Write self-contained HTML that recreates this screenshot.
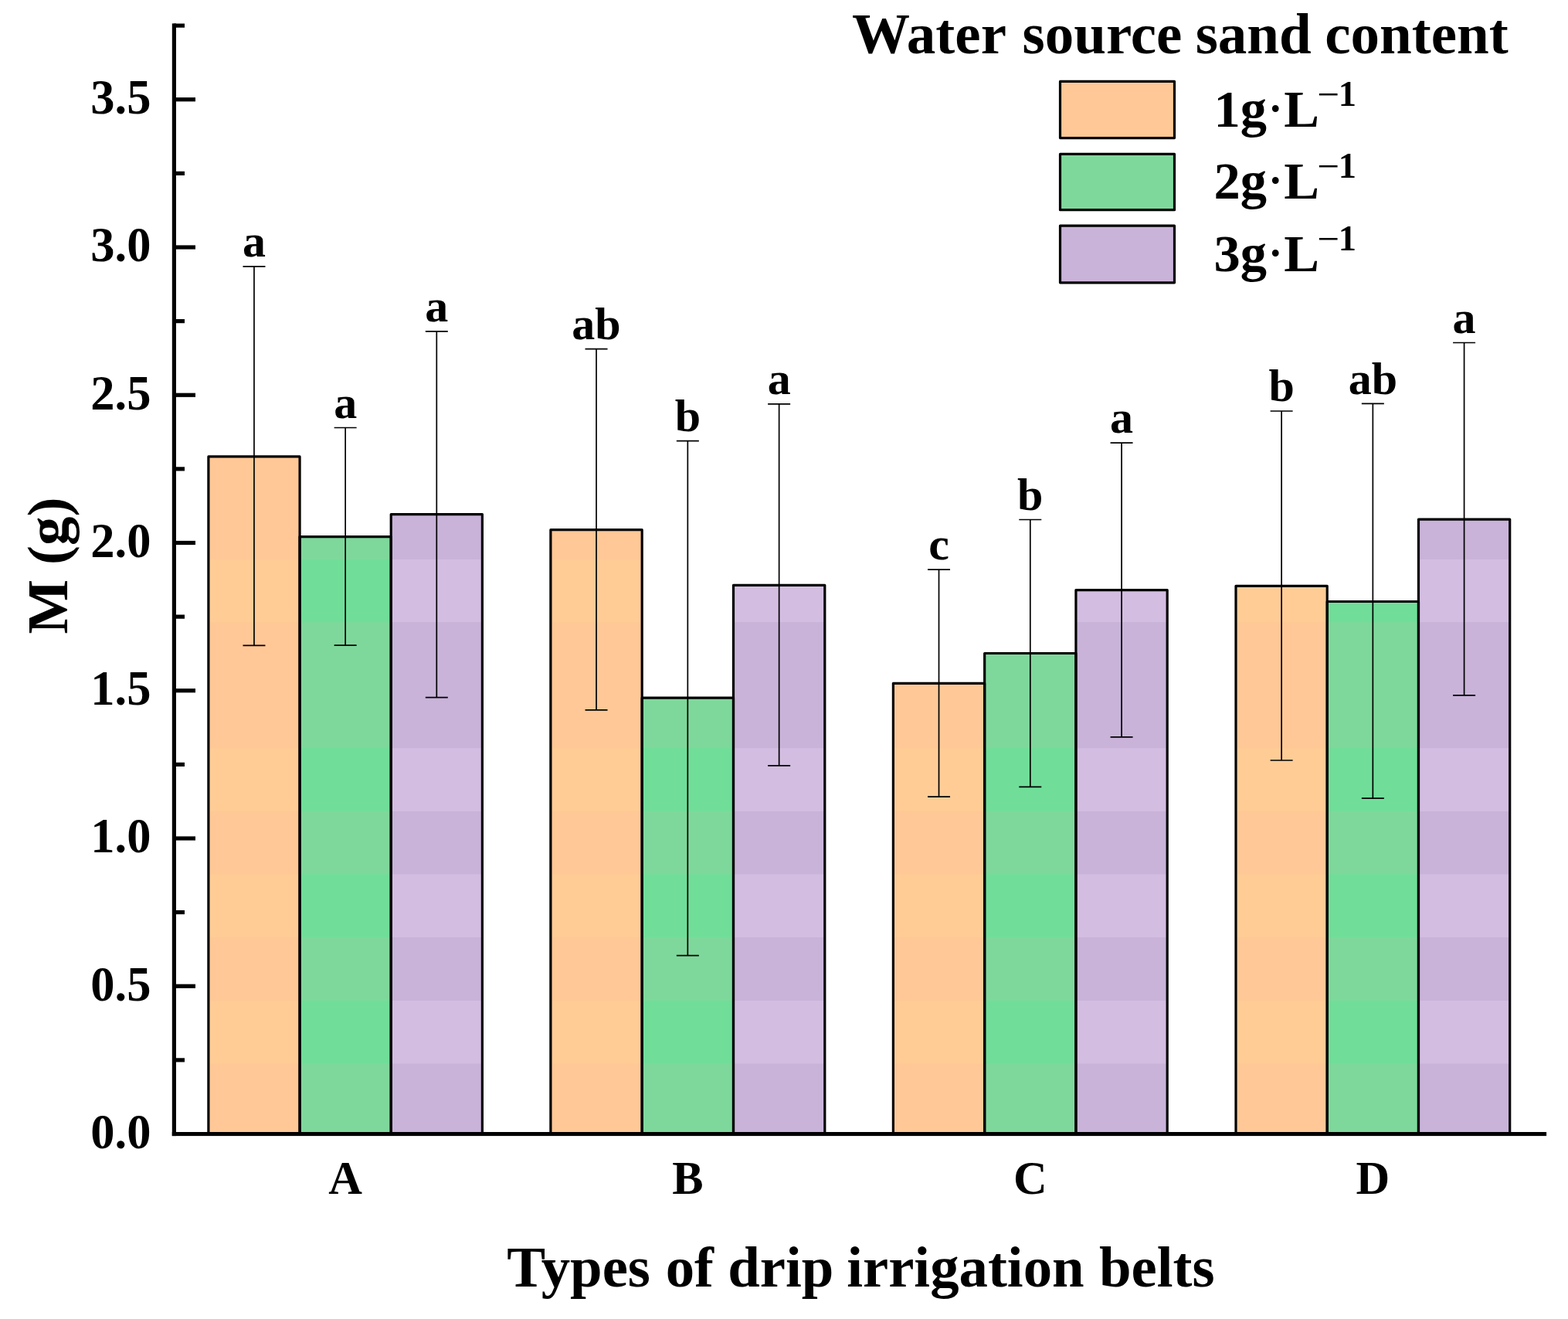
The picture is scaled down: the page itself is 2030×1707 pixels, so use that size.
<!DOCTYPE html>
<html lang="en">
<head>
<meta charset="utf-8">
<title>Water source sand content - types of drip irrigation belts</title>
<style>
html,body{margin:0;padding:0;background:#fff;}
body{width:2030px;height:1707px;overflow:hidden;}
svg{display:block;}
text{font-family:"Liberation Serif","DejaVu Serif",serif;font-weight:bold;fill:#000;}
.bar{stroke:#000;stroke-width:3.2;stroke-linejoin:round;fill:none;}
.err{stroke:#000;stroke-width:1.7;fill:none;}
.ax{fill:#000;}
</style>
</head>
<body>
<svg width="2030" height="1707" viewBox="0 0 2030 1707">
<rect x="0" y="0" width="2030" height="1707" fill="#fff"/>
<g id="bars">
<rect x="269.9" y="590.9" width="118.17" height="876.6" fill="#FFC896"/>
<rect x="269.9" y="723.9" width="118.17" height="81.3" fill="#FFCC96"/>
<rect x="269.9" y="968.2" width="118.17" height="81.8" fill="#FFCC96"/>
<rect x="269.9" y="1131.4" width="118.17" height="81.6" fill="#FFCC96"/>
<rect x="269.9" y="1294.9" width="118.17" height="81.6" fill="#FFCC96"/>
<rect x="388.07" y="694.6" width="118.17" height="772.9" fill="#7FD89B"/>
<rect x="388.07" y="723.9" width="118.17" height="81.3" fill="#70DE99"/>
<rect x="388.07" y="968.2" width="118.17" height="81.8" fill="#70DE99"/>
<rect x="388.07" y="1131.4" width="118.17" height="81.6" fill="#70DE99"/>
<rect x="388.07" y="1294.9" width="118.17" height="81.6" fill="#70DE99"/>
<rect x="506.23" y="665.6" width="118.17" height="801.9" fill="#C9B3D9"/>
<rect x="506.23" y="723.9" width="118.17" height="81.3" fill="#D3BDE1"/>
<rect x="506.23" y="968.2" width="118.17" height="81.8" fill="#D3BDE1"/>
<rect x="506.23" y="1131.4" width="118.17" height="81.6" fill="#D3BDE1"/>
<rect x="506.23" y="1294.9" width="118.17" height="81.6" fill="#D3BDE1"/>
<rect class="bar" x="269.9" y="590.9" width="118.17" height="876.6"/>
<rect class="bar" x="388.07" y="694.6" width="118.17" height="772.9"/>
<rect class="bar" x="506.23" y="665.6" width="118.17" height="801.9"/>
<rect x="712.9" y="685.7" width="118.3" height="781.8" fill="#FFC896"/>
<rect x="712.9" y="723.9" width="118.3" height="81.3" fill="#FFCC96"/>
<rect x="712.9" y="968.2" width="118.3" height="81.8" fill="#FFCC96"/>
<rect x="712.9" y="1131.4" width="118.3" height="81.6" fill="#FFCC96"/>
<rect x="712.9" y="1294.9" width="118.3" height="81.6" fill="#FFCC96"/>
<rect x="831.2" y="903.2" width="118.3" height="564.3" fill="#7FD89B"/>
<rect x="831.2" y="968.2" width="118.3" height="81.8" fill="#70DE99"/>
<rect x="831.2" y="1131.4" width="118.3" height="81.6" fill="#70DE99"/>
<rect x="831.2" y="1294.9" width="118.3" height="81.6" fill="#70DE99"/>
<rect x="949.5" y="757.3" width="118.3" height="710.2" fill="#C9B3D9"/>
<rect x="949.5" y="757.3" width="118.3" height="47.9" fill="#D3BDE1"/>
<rect x="949.5" y="968.2" width="118.3" height="81.8" fill="#D3BDE1"/>
<rect x="949.5" y="1131.4" width="118.3" height="81.6" fill="#D3BDE1"/>
<rect x="949.5" y="1294.9" width="118.3" height="81.6" fill="#D3BDE1"/>
<rect class="bar" x="712.9" y="685.7" width="118.3" height="781.8"/>
<rect class="bar" x="831.2" y="903.2" width="118.3" height="564.3"/>
<rect class="bar" x="949.5" y="757.3" width="118.3" height="710.2"/>
<rect x="1156.4" y="884.3" width="118.27" height="583.2" fill="#FFC896"/>
<rect x="1156.4" y="968.2" width="118.27" height="81.8" fill="#FFCC96"/>
<rect x="1156.4" y="1131.4" width="118.27" height="81.6" fill="#FFCC96"/>
<rect x="1156.4" y="1294.9" width="118.27" height="81.6" fill="#FFCC96"/>
<rect x="1274.67" y="845.5" width="118.27" height="622" fill="#7FD89B"/>
<rect x="1274.67" y="968.2" width="118.27" height="81.8" fill="#70DE99"/>
<rect x="1274.67" y="1131.4" width="118.27" height="81.6" fill="#70DE99"/>
<rect x="1274.67" y="1294.9" width="118.27" height="81.6" fill="#70DE99"/>
<rect x="1392.93" y="763.6" width="118.27" height="703.9" fill="#C9B3D9"/>
<rect x="1392.93" y="763.6" width="118.27" height="41.6" fill="#D3BDE1"/>
<rect x="1392.93" y="968.2" width="118.27" height="81.8" fill="#D3BDE1"/>
<rect x="1392.93" y="1131.4" width="118.27" height="81.6" fill="#D3BDE1"/>
<rect x="1392.93" y="1294.9" width="118.27" height="81.6" fill="#D3BDE1"/>
<rect class="bar" x="1156.4" y="884.3" width="118.27" height="583.2"/>
<rect class="bar" x="1274.67" y="845.5" width="118.27" height="622"/>
<rect class="bar" x="1392.93" y="763.6" width="118.27" height="703.9"/>
<rect x="1600" y="758.3" width="118.23" height="709.2" fill="#FFC896"/>
<rect x="1600" y="758.3" width="118.23" height="46.9" fill="#FFCC96"/>
<rect x="1600" y="968.2" width="118.23" height="81.8" fill="#FFCC96"/>
<rect x="1600" y="1131.4" width="118.23" height="81.6" fill="#FFCC96"/>
<rect x="1600" y="1294.9" width="118.23" height="81.6" fill="#FFCC96"/>
<rect x="1718.23" y="778.5" width="118.23" height="689" fill="#7FD89B"/>
<rect x="1718.23" y="778.5" width="118.23" height="26.7" fill="#70DE99"/>
<rect x="1718.23" y="968.2" width="118.23" height="81.8" fill="#70DE99"/>
<rect x="1718.23" y="1131.4" width="118.23" height="81.6" fill="#70DE99"/>
<rect x="1718.23" y="1294.9" width="118.23" height="81.6" fill="#70DE99"/>
<rect x="1836.47" y="672.1" width="118.23" height="795.4" fill="#C9B3D9"/>
<rect x="1836.47" y="723.9" width="118.23" height="81.3" fill="#D3BDE1"/>
<rect x="1836.47" y="968.2" width="118.23" height="81.8" fill="#D3BDE1"/>
<rect x="1836.47" y="1131.4" width="118.23" height="81.6" fill="#D3BDE1"/>
<rect x="1836.47" y="1294.9" width="118.23" height="81.6" fill="#D3BDE1"/>
<rect class="bar" x="1600" y="758.3" width="118.23" height="709.2"/>
<rect class="bar" x="1718.23" y="778.5" width="118.23" height="689"/>
<rect class="bar" x="1836.47" y="672.1" width="118.23" height="795.4"/>
</g>
<g id="errors">
<path class="err" d="M328.98 344.9V835.3M314.48 344.9H343.48M314.48 835.3H343.48"/>
<path class="err" d="M447.15 553.5V835.2M432.65 553.5H461.65M432.65 835.2H461.65"/>
<path class="err" d="M565.32 428.8V902.7M550.82 428.8H579.82M550.82 902.7H579.82"/>
<path class="err" d="M772.05 451.7V918.8M757.55 451.7H786.55M757.55 918.8H786.55"/>
<path class="err" d="M890.35 570.6V1236.7M875.85 570.6H904.85M875.85 1236.7H904.85"/>
<path class="err" d="M1008.65 522.8V990.9M994.15 522.8H1023.15M994.15 990.9H1023.15"/>
<path class="err" d="M1215.53 737.1V1031.1M1201.03 737.1H1230.03M1201.03 1031.1H1230.03"/>
<path class="err" d="M1333.8 672.5V1018.3M1319.3 672.5H1348.3M1319.3 1018.3H1348.3"/>
<path class="err" d="M1452.07 573.1V953.8M1437.57 573.1H1466.57M1437.57 953.8H1466.57"/>
<path class="err" d="M1659.12 532V984M1644.62 532H1673.62M1644.62 984H1673.62"/>
<path class="err" d="M1777.35 522.4V1033.1M1762.85 522.4H1791.85M1762.85 1033.1H1791.85"/>
<path class="err" d="M1895.58 443.5V899.9M1881.08 443.5H1910.08M1881.08 899.9H1910.08"/>
</g>
<g id="axes" class="ax">
<rect x="222.8" y="30.4" width="5.2" height="1439.7"/>
<rect x="222.8" y="1465" width="1779.3" height="5.1"/>
<rect x="225" y="1369.28" width="14" height="5.2"/>
<rect x="225" y="1273.65" width="28" height="5.2"/>
<rect x="225" y="1178.03" width="14" height="5.2"/>
<rect x="225" y="1082.4" width="28" height="5.2"/>
<rect x="225" y="986.77" width="14" height="5.2"/>
<rect x="225" y="891.15" width="28" height="5.2"/>
<rect x="225" y="795.52" width="14" height="5.2"/>
<rect x="225" y="699.9" width="28" height="5.2"/>
<rect x="225" y="604.27" width="14" height="5.2"/>
<rect x="225" y="508.65" width="28" height="5.2"/>
<rect x="225" y="413.02" width="14" height="5.2"/>
<rect x="225" y="317.4" width="28" height="5.2"/>
<rect x="225" y="221.78" width="14" height="5.2"/>
<rect x="225" y="126.15" width="28" height="5.2"/>
<rect x="225" y="30.52" width="14" height="5.2"/>
</g>
<g id="ylabels" font-size="62.5" text-anchor="end">
<text x="195.4" y="1485.9">0.0</text>
<text x="195.4" y="1294.65">0.5</text>
<text x="195.4" y="1103.4">1.0</text>
<text x="195.4" y="912.15">1.5</text>
<text x="195.4" y="720.9">2.0</text>
<text x="195.4" y="529.65">2.5</text>
<text x="195.4" y="338.4">3.0</text>
<text x="195.4" y="147.15">3.5</text>
</g>
<g id="xlabels" font-size="60.5" text-anchor="middle">
<text x="447.15" y="1544.9">A</text>
<text x="890.35" y="1544.9">B</text>
<text x="1333.8" y="1544.9">C</text>
<text x="1777.35" y="1544.9">D</text>
</g>
<g id="sig" font-size="60" text-anchor="middle">
<text x="328.98" y="332.1">a</text>
<text x="447.15" y="540.7">a</text>
<text x="565.32" y="416">a</text>
<text x="772.05" y="438.9">ab</text>
<text x="890.35" y="557.8">b</text>
<text x="1008.65" y="510">a</text>
<text x="1215.53" y="724.3">c</text>
<text x="1333.8" y="659.7">b</text>
<text x="1452.07" y="560.3">a</text>
<text x="1659.12" y="519.2">b</text>
<text x="1777.35" y="509.6">ab</text>
<text x="1895.58" y="430.7">a</text>
</g>
<text id="xtitle" y="1665.2" font-size="74.8" xml:space="preserve"><tspan x="656.3">Types </tspan><tspan x="861.7">of </tspan><tspan x="942.2">drip </tspan><tspan x="1096.2">irrigation </tspan><tspan x="1422.9">belts</tspan></text>
<text id="ytitle" transform="translate(87 732) rotate(-90)" font-size="75" text-anchor="middle">M (g)</text>
<text id="ltitle" y="68.8" font-size="75" xml:space="preserve"><tspan x="1103">Water </tspan><tspan x="1323.5">source </tspan><tspan x="1547.7">sand </tspan><tspan x="1715.2">content</tspan></text>
<g id="legend">
<rect x="1372.5" y="105.4" width="148" height="73.2" fill="#FFC896" stroke="#000" stroke-width="3.2" stroke-linejoin="round"/>
<text x="1571.6" y="164.4" font-size="68.5">1g<tspan x="1642.2" y="159.4" font-size="54">·</tspan><tspan x="1662.3" y="164.4">L</tspan><tspan x="1705.4" y="139.4" font-size="51" font-weight="normal">−</tspan><tspan x="1732.7" y="137.1" font-size="46.5">1</tspan></text>
<rect x="1372.5" y="199.4" width="148" height="72.3" fill="#7FD89B" stroke="#000" stroke-width="3.2" stroke-linejoin="round"/>
<text x="1571.6" y="257.4" font-size="68.5">2g<tspan x="1642.2" y="252.4" font-size="54">·</tspan><tspan x="1662.3" y="257.4">L</tspan><tspan x="1705.4" y="232.4" font-size="51" font-weight="normal">−</tspan><tspan x="1732.7" y="230.1" font-size="46.5">1</tspan></text>
<rect x="1372.5" y="292.2" width="148" height="73.6" fill="#C9B3D9" stroke="#000" stroke-width="3.2" stroke-linejoin="round"/>
<text x="1571.6" y="351.2" font-size="68.5">3g<tspan x="1642.2" y="346.2" font-size="54">·</tspan><tspan x="1662.3" y="351.2">L</tspan><tspan x="1705.4" y="326.2" font-size="51" font-weight="normal">−</tspan><tspan x="1732.7" y="323.9" font-size="46.5">1</tspan></text>
</g>
</svg>
</body>
</html>
